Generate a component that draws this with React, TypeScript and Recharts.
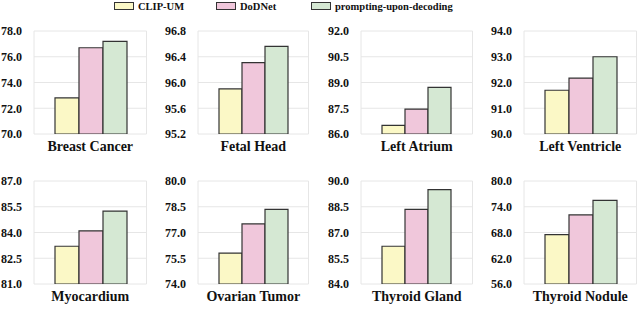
import React from 'react';
import { BarChart, Bar, XAxis, YAxis, CartesianGrid } from 'recharts';

const panels = ['Breast Cancer', 'Fetal Head', 'Left Atrium', 'Left Ventricle', 'Myocardium', 'Ovarian Tumor', 'Thyroid Gland', 'Thyroid Nodule'];
const clipUM = [72.8, 95.9, 86.5, 91.7, 83.2, 75.8, 86.2, 67.5];
const dodNet = [76.7, 96.31, 87.45, 92.17, 84.1, 77.5, 88.35, 72.1];
const prompting = [77.2, 96.56, 88.72, 93.0, 85.25, 78.35, 89.5, 75.5];
const yTicks = [
  [70, 72, 74, 76, 78],
  [95.2, 95.6, 96.0, 96.4, 96.8],
  [86, 87.5, 89, 90.5, 92],
  [90, 91, 92, 93, 94],
  [81, 82.5, 84, 85.5, 87],
  [74, 75.5, 77, 78.5, 80],
  [84, 85.5, 87, 88.5, 90],
  [56, 62, 68, 74, 80],
];
const seriesNames = ['CLIP-UM', 'DoDNet', 'prompting-upon-decoding'];
const seriesKeys = ['clip', 'dod', 'pud'];
const colors = ['#FBF8C6', '#F0C7DB', '#D5E8D3'];

const FONT = 'Liberation Serif';
const plotLefts = [33.5, 198, 361, 523.5];
const plotWidths = [112.5, 110.5, 111.5, 112.5];
const rowTops = [31, 181];
const PLOT_H = 103;
const YW = 40;
const TOPM = 10;
const XH = 30;

function Panel({ i }: { i: number }) {
  const col = i % 4;
  const row = Math.floor(i / 4);
  const ticks = yTicks[i];
  const data = [{ name: panels[i], clip: clipUM[i], dod: dodNet[i], pud: prompting[i] }];
  const w = YW + plotWidths[col] + 4;
  const h = TOPM + PLOT_H + XH;
  return (
    <div style={{ position: 'absolute', left: plotLefts[col] - YW, top: rowTops[row] - TOPM, fontFamily: FONT }}>
      <BarChart width={w} height={h} data={data} margin={{ top: TOPM, right: 4, left: 0, bottom: 0 }} barCategoryGap={21} barGap={0} style={{ fontFamily: FONT }}>
        <CartesianGrid
          stroke="#e6e6e6"
          strokeWidth={1}
          verticalCoordinatesGenerator={({ offset }: any) => [offset.left, offset.left + offset.width]}
        />
        <XAxis
          dataKey="name"
          axisLine={false}
          tickLine={false}
          tickSize={0}
          tickMargin={7}
          interval={0}
          height={XH}
          tick={{ fontSize: 14, fontWeight: 'bold', fill: '#111', fontFamily: FONT, style: { fontFamily: FONT } }}
        />
        <YAxis
          type="number"
          width={YW}
          domain={[ticks[0], ticks[ticks.length - 1]]}
          ticks={ticks}
          allowDataOverflow
          axisLine={false}
          tickLine={false}
          tickSize={0}
          tickMargin={12}
          tickFormatter={(v: number) => v.toFixed(1)}
          tick={{ fontSize: 12, fontWeight: 'bold', fill: '#111', fontFamily: FONT, style: { fontFamily: FONT } }}
        />
        {seriesKeys.map((k, j) => (
          <Bar key={k} dataKey={k} name={seriesNames[j]} fill={colors[j]} stroke="#333" strokeWidth={1.2} isAnimationActive={false} />
        ))}
      </BarChart>
    </div>
  );
}

const legendX = [114, 216, 311];

export default function App() {
  return (
    <div style={{ position: 'absolute', left: 0, top: 0, width: 640, height: 324, background: '#fff', overflow: 'hidden', fontFamily: FONT }}>
      {seriesNames.map((n, j) => (
        <div key={n} style={{ position: 'absolute', left: legendX[j], top: 0, height: 12, display: 'flex', alignItems: 'center', fontFamily: FONT, fontWeight: 'bold', fontSize: 10.5, color: '#111', whiteSpace: 'nowrap' }}>
          <div style={{ width: 18, height: 6, border: '1px solid #333', background: colors[j], marginRight: 4 }} />
          <span>{n}</span>
        </div>
      ))}
      {panels.map((_, i) => (
        <Panel key={i} i={i} />
      ))}
    </div>
  );
}
